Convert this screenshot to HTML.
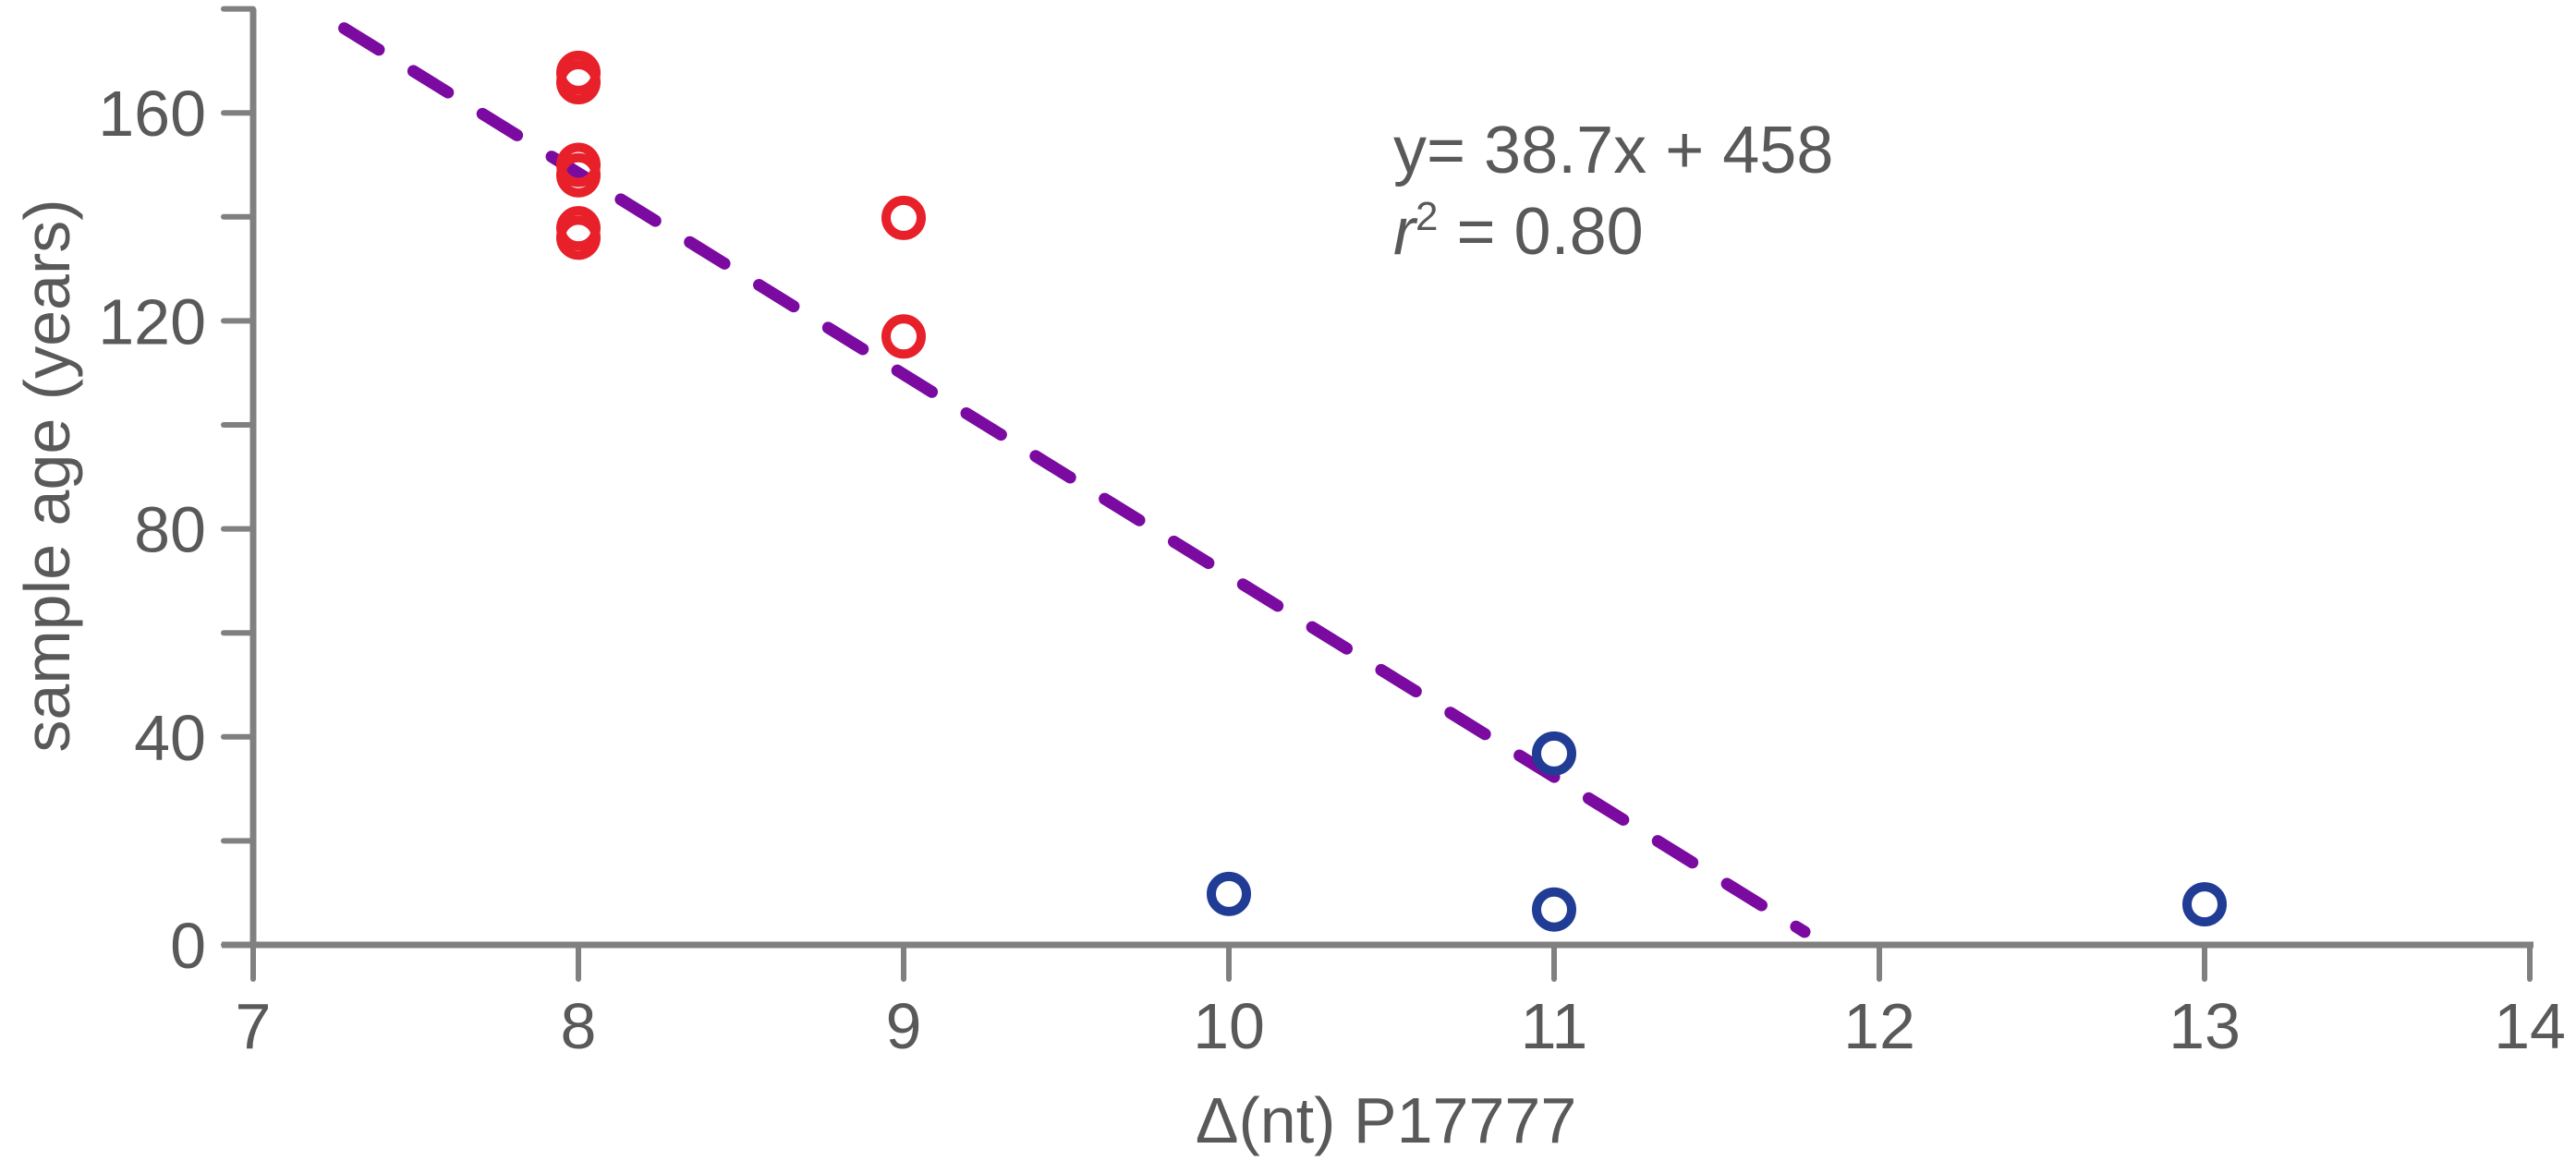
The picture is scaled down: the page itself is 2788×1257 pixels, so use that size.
<!DOCTYPE html>
<html><head><meta charset="utf-8"><style>
html,body{margin:0;padding:0;background:#fff;}
svg{display:block;font-family:"Liberation Sans",Arial,sans-serif;}
</style></head><body>
<svg id="chart" width="2788" height="1257" viewBox="0 0 2788 1257" xmlns="http://www.w3.org/2000/svg">
<g id="axes"></g>
<g id="fit"></g>
<g id="points"></g>
<text x="1508" y="187" font-size="72" fill="#595959">y= 38.7x + 458</text>
<text x="1508" y="275" font-size="72" fill="#595959"><tspan font-style="italic">r</tspan><tspan font-size="44" dy="-26">2</tspan><tspan dy="26"> = 0.80</tspan></text>
<text x="1500" y="1237" font-size="70" fill="#595959" text-anchor="middle">Δ(nt) P17777</text>
<text transform="translate(75,515) rotate(-90)" font-size="70" fill="#595959" text-anchor="middle">sample age (years)</text>
</svg>
<script>
const xTicks = [7, 8, 9, 10, 11, 12, 13, 14];
const yTicks = [0, 20, 40, 60, 80, 100, 120, 140, 160, 180];
const yLabels = [0, 40, 80, 120, 160];
const redX = [8, 8, 8, 8, 8, 8, 9, 9];
const redY = [167.7, 165.9, 150, 148, 137.8, 136, 139.8, 117];
const blueX = [10, 11, 11, 13];
const blueY = [9.8, 36.8, 6.8, 7.8];
const fitSlope = -38.7;
const fitIntercept = 458;
const fitRange = [7.28, 11.77];

const NS = "http://www.w3.org/2000/svg";
const xs = v => 274 + (v - 7) * 352;
const ys = v => 1023 - v * 5.63;
function mk(parent, tag, attrs) {
  const e = document.createElementNS(NS, tag);
  for (const k in attrs) e.setAttribute(k, attrs[k]);
  parent.appendChild(e);
  return e;
}
const axes = document.getElementById('axes');
const AX = "#808080";
let el = mk(axes, 'line', {x1: 274, y1: ys(180), x2: 274, y2: 1023, stroke: AX, 'stroke-width': 7});


el = mk(axes, 'line', {x1: 240, y1: 1023, x2: xs(14) + 4, y2: 1023, stroke: AX, 'stroke-width': 7});


yTicks.forEach(v => {
  const t = mk(axes, 'line', {x1: 242, y1: ys(v), x2: 274, y2: ys(v), stroke: AX, 'stroke-width': 6, 'stroke-linecap': 'round'});
  
  
});
yLabels.forEach(v => {
  const t = mk(axes, 'text', {x: 223, y: ys(v) + 25, 'font-size': 70, fill: '#595959', 'text-anchor': 'end'});
  t.textContent = v;
  
  
});
xTicks.forEach(v => {
  const t = mk(axes, 'line', {x1: xs(v), y1: 1023, x2: xs(v), y2: 1060, stroke: AX, 'stroke-width': 6, 'stroke-linecap': 'round'});
  
  
  const l = mk(axes, 'text', {x: xs(v), y: 1135, 'font-size': 70, fill: '#595959', 'text-anchor': 'middle'});
  l.textContent = v;
  
  
});
const fit = document.getElementById('fit');
const fl = mk(fit, 'line', {
  x1: xs(fitRange[0]), y1: ys(fitIntercept + fitSlope * fitRange[0]),
  x2: xs(fitRange[1]), y2: ys(fitIntercept + fitSlope * fitRange[1]),
  stroke: '#7a0aa0', 'stroke-width': 13, 'stroke-linecap': 'round', 'stroke-dasharray': '44 44'
});


const pts = document.getElementById('points');
redX.forEach((x, i) => {
  const c = mk(pts, 'circle', {cx: xs(x), cy: ys(redY[i]), r: 19, fill: 'none', stroke: '#e8202a', 'stroke-width': 10});
  
  
});
blueX.forEach((x, i) => {
  const c = mk(pts, 'circle', {cx: xs(x), cy: ys(blueY[i]), r: 19, fill: 'none', stroke: '#213c95', 'stroke-width': 10});
  
  
});
</script>
</body></html>
